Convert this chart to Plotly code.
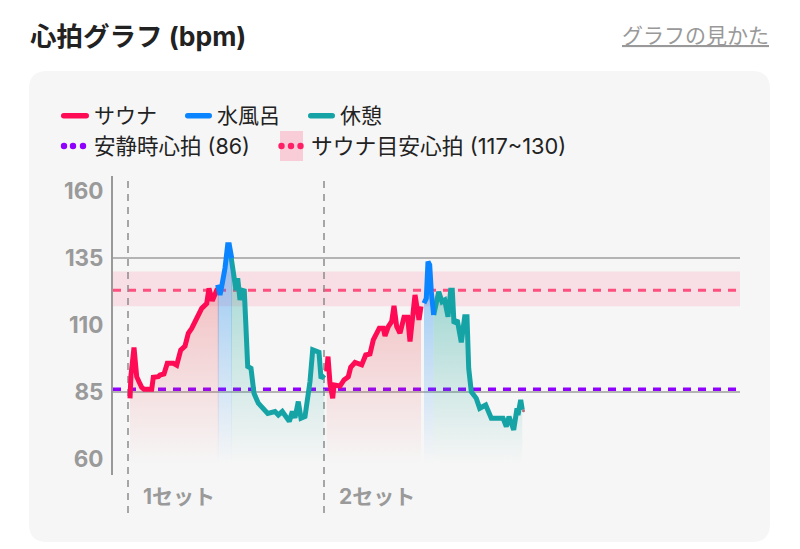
import plotly.graph_objects as go

# Ejes (t = tiempo relativo, bpm)
y_ticks = [60, 85, 110, 135, 160]
grid_values = [85, 135]
resting_hr = 86
target_low, target_high = 117, 130
target_mid = 123
set_starts = [0, 196]
set_labels = ["1セット", "2セット"]

# Set 1
sauna1_t = [2, 3, 6, 8.7, 11, 13.7, 16, 23.7, 25.3, 30.3, 32, 36, 39.3, 45.3, 48.7, 52.7, 57, 60.3, 63.7, 68, 73.7, 78.7, 81, 84.3, 88.7, 91]
sauna1_y = [82.6, 91.3, 101.6, 90.7, 88.8, 86.7, 86, 86, 90.5, 90.7, 91.3, 91.7, 95.7, 95.7, 95, 100.6, 102.1, 106.9, 108.7, 112.1, 116.2, 118, 123.7, 119, 123, 123]
cold1_t = [89.7, 92, 94.3, 97, 99.7, 101.3, 103.7]
cold1_y = [125, 121.2, 125.6, 131.2, 139.9, 139.9, 134.9]
rest1_t = [103, 105.3, 108, 109.7, 112, 113.7, 116.3, 117.7, 119.7, 123, 126, 130.3, 135.3, 139.7, 147, 150.3, 154.3, 161.3, 164.3, 167, 170.3, 173, 177, 182, 184.7, 188, 191, 193, 196.3]
rest1_y = [135.5, 128.7, 123, 127.4, 119.3, 123, 122.7, 111.3, 94.5, 93.8, 84.5, 80.8, 78.9, 77, 77.7, 76.4, 77.7, 74, 77.7, 75.4, 81.4, 75.2, 75.8, 88.9, 100.7, 100, 99.8, 90.1, 91.4]

# Set 2
sauna2_t = [198.7, 200, 202, 204.7, 206, 212, 216, 220.3, 222.7, 227, 233.7, 237.7, 242, 245.3, 251.3, 255.3, 257, 260.3, 263.7, 266, 268.7, 272, 276, 279.7, 282, 287, 291, 293]
sauna2_y = [92.6, 98.2, 88.2, 82.6, 87.6, 87.2, 89.5, 90.7, 94.2, 96, 95.1, 98.8, 99.2, 104.4, 108.8, 108.8, 105.9, 109.4, 111.3, 117.1, 109.4, 106.9, 112.9, 112.9, 103.8, 121.2, 111.9, 116.9]
cold2_t = [296, 298.3, 300, 301.7, 303.3, 305.7]
cold2_y = [118.1, 119.9, 133.6, 132.4, 122.4, 113.7]
rest2_t = [305.7, 310.7, 314, 316.7, 320, 322.7, 324.3, 326, 329.3, 333.3, 336.7, 339, 340.7, 343.3, 348.3, 351.7, 357.7, 363.3, 375, 378.3, 381, 385.7, 389, 390, 392.7, 394.3]
rest2_y = [113.7, 122.4, 118.7, 119.3, 113.1, 123, 123, 110.6, 111.8, 103.5, 113.1, 113.1, 93.8, 85.1, 82.6, 78.9, 80.1, 75.2, 75.2, 72.1, 75.8, 70.8, 78.9, 76.4, 82, 78.3]
# punto suelto al final
tail_t = [395.5]
tail_y = [78]

RED = "#ff0a54"
BLUE = "#0a84ff"
TEAL = "#16a3a6"
PURPLE = "#8f00ff"
PINK = "#ff4f7e"
GRAY = "#9a9a9a"
FONT = "Inter, Noto Sans CJK JP"

W, H = 800, 549
L, R, T, B = 113, 60, 176, 74


def px(x):
    return (x - L) / (W - L - R)


def py(y):
    return 1 + (T - y) / (H - T - B)


def rounded(x0, y0, x1, y1, r):
    # rectangulo redondeado en coordenadas paper
    return (
        f"M{px(x0 + r)},{py(y0)} L{px(x1 - r)},{py(y0)} Q{px(x1)},{py(y0)} {px(x1)},{py(y0 + r)} "
        f"L{px(x1)},{py(y1 - r)} Q{px(x1)},{py(y1)} {px(x1 - r)},{py(y1)} "
        f"L{px(x0 + r)},{py(y1)} Q{px(x0)},{py(y1)} {px(x0)},{py(y1 - r)} "
        f"L{px(x0)},{py(y0 + r)} Q{px(x0)},{py(y0)} {px(x0 + r)},{py(y0)} Z"
    )


def segment(t, y, color, rgb, alpha):
    return go.Scatter(
        x=t, y=y, mode="lines",
        line=dict(color=color, width=5),
        fill="tozeroy",
        fillcolor=f"rgba({rgb},{alpha})",
        fillgradient=dict(
            type="vertical",
            start=max(y), stop=58,
            colorscale=[[0, f"rgba({rgb},{alpha})"], [1, f"rgba({rgb},0)"]],
        ),
        hoverinfo="skip",
    )


fig = go.Figure()
fig.add_trace(segment(sauna1_t, sauna1_y, RED, "235,70,80", 0.3))
fig.add_trace(segment(rest1_t, rest1_y, TEAL, "22,163,150", 0.38))
fig.add_trace(segment(cold1_t, cold1_y, BLUE, "30,140,240", 0.45))
fig.add_trace(segment(sauna2_t, sauna2_y, RED, "235,70,80", 0.3))
fig.add_trace(segment(rest2_t, rest2_y, TEAL, "22,163,150", 0.38))
fig.add_trace(segment(cold2_t, cold2_y, BLUE, "30,140,240", 0.45))
fig.add_trace(go.Scatter(x=tail_t, y=tail_y, mode="markers", marker=dict(size=3, color="#b5707c"), hoverinfo="skip"))

shapes = [
    dict(type="path", path=rounded(29, 71, 770, 542, 18), xref="paper", yref="paper",
         fillcolor="#f6f6f6", line=dict(width=0), layer="below"),
    dict(type="rect", xref="paper", yref="y", x0=0, x1=1, y0=target_low, y1=target_high,
         fillcolor="rgba(255,60,110,0.12)", line=dict(width=0), layer="below"),
    dict(type="line", xref="paper", yref="y", x0=0, x1=1, y0=target_mid, y1=target_mid,
         line=dict(color=PINK, width=3, dash="8px,7px"), layer="below"),
]
for g in grid_values:
    shapes.append(dict(type="line", xref="paper", yref="y", x0=0, x1=1, y0=g, y1=g,
                       line=dict(color="#b4b4b4", width=2), layer="below"))
shapes.append(dict(type="line", xref="paper", yref="y", x0=0, x1=1, y0=resting_hr, y1=resting_hr,
                   line=dict(color=PURPLE, width=3.5, dash="8px,7px"), layer="below"))
for s in set_starts:
    shapes.append(dict(type="line", xref="x", yref="paper", x0=s, x1=s, y0=py(513), y1=1,
                       line=dict(color="#8c8c8c", width=1.5, dash="7px,6px"), layer="below"))

# leyenda dibujada a mano
for x0, x1, c in [(61, 89, RED), (185, 212, BLUE), (308, 335, TEAL)]:
    shapes.append(dict(type="path", path=rounded(x0, 113, x1, 118.5, 2.7), xref="paper", yref="paper",
                       fillcolor=c, line=dict(width=0)))
shapes.append(dict(type="rect", xref="paper", yref="paper", x0=px(280), x1=px(303), y0=py(161), y1=py(131),
                   fillcolor="rgba(255,60,110,0.22)", line=dict(width=0)))
for xs, c in [((64, 73, 83), PURPLE), ((281.5, 291, 300.5), "#ff1f66")]:
    for cx in xs:
        shapes.append(dict(type="circle", xref="paper", yref="paper",
                           x0=px(cx - 3.2), x1=px(cx + 3.2), y0=py(149.2), y1=py(142.8),
                           fillcolor=c, line=dict(width=0)))


def label(text, x, y, size, color="#222222", anchor="left"):
    return dict(text=text, xref="paper", yref="paper", x=px(x), y=py(y), xanchor=anchor, yanchor="middle",
                showarrow=False, font=dict(family=FONT, size=size, color=color))


annotations = [
    label("<b>心拍グラフ (bpm)</b>", 27.5, 36, 26.5),
    label("<u>グラフの見かた</u>", 771, 36, 21, "#999999", "right"),
    label("サウナ", 91.5, 116, 21),
    label("水風呂", 214.5, 116, 21),
    label("休憩", 337.5, 116, 21),
    label("安静時心拍 (86)", 91.5, 146, 21.5),
    label("サウナ目安心拍 (117~130)", 308.5, 146, 21.8),
]
for s, text in zip(set_starts, set_labels):
    annotations.append(dict(text=f"<b>{text}</b>", xref="x", yref="paper", x=s + 13, y=py(496), xanchor="left",
                            yanchor="middle", showarrow=False, font=dict(family=FONT, size=21, color=GRAY)))

fig.update_layout(
    width=W, height=H,
    margin=dict(l=L, r=R, t=T, b=B, pad=0),
    paper_bgcolor="white",
    plot_bgcolor="rgba(0,0,0,0)",
    showlegend=False,
    hovermode=False,
    shapes=shapes,
    annotations=annotations,
    xaxis=dict(range=[-15, 612], visible=False, fixedrange=True),
    yaxis=dict(
        range=[54, 165.6], tickvals=y_ticks, showgrid=False, zeroline=False,
        showline=True, linecolor="#999999", linewidth=2, ticks="", fixedrange=True, ticklabelstandoff=3,
        tickfont=dict(family=FONT, size=22.5, color=GRAY, weight="bold"),
    ),
)

fig.write_html("out.html", config=dict(displayModeBar=False),
               post_script="document.body.style.margin='0';")
